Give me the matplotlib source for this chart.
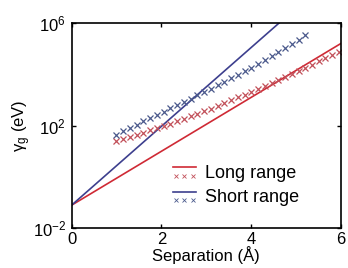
import numpy as np
import matplotlib
matplotlib.use('Agg')
import matplotlib.pyplot as plt
from matplotlib.legend_handler import HandlerBase
from matplotlib.lines import Line2D

plt.rcParams['font.family'] = ['Liberation Sans', 'DejaVu Sans']
plt.rcParams['mathtext.fontset'] = 'custom'
plt.rcParams['mathtext.rm'] = 'Liberation Sans'
plt.rcParams['mathtext.it'] = 'Liberation Sans:italic'

# crosses (separation in A, log10 of gamma_g in eV)
short_x = [1.00, 1.15, 1.30, 1.45, 1.60, 1.75, 1.90, 2.05, 2.20, 2.35, 2.50, 2.65, 2.80, 2.95, 3.10,
           3.25, 3.40, 3.55, 3.70, 3.85, 4.00, 4.15, 4.30, 4.45, 4.60, 4.75, 4.90, 5.05, 5.20]
short_log = [1.65, 1.78, 1.90, 2.03, 2.16, 2.29, 2.41, 2.54, 2.67, 2.80, 2.92, 3.05, 3.18, 3.31, 3.44,
             3.58, 3.71, 3.85, 3.98, 4.12, 4.26, 4.41, 4.56, 4.72, 4.87, 5.03, 5.19, 5.35, 5.52]
long_x = [1.00, 1.15, 1.30, 1.45, 1.60, 1.75, 1.90, 2.05, 2.20, 2.35, 2.50, 2.65, 2.80, 2.95, 3.10, 3.25, 3.40,
          3.55, 3.70, 3.85, 4.00, 4.15, 4.30, 4.45, 4.60, 4.75, 4.90, 5.05, 5.20, 5.35, 5.50, 5.65, 5.80, 5.95]
long_log = [1.40, 1.48, 1.56, 1.64, 1.72, 1.81, 1.89, 1.98, 2.07, 2.16, 2.26, 2.36, 2.46, 2.56, 2.66, 2.77, 2.88,
            2.99, 3.10, 3.21, 3.32, 3.44, 3.55, 3.67, 3.78, 3.90, 4.02, 4.14, 4.26, 4.38, 4.50, 4.62, 4.74, 4.86]

# fitted lines (end points)
line_x = [0, 6]
short_line_log = [-1.11, 8.13]
long_line_log = [-1.11, 5.21]

red = '#cf2a35'
red_x = '#c2505a'
blue = '#3d3f8e'
blue_x = '#4b5a8c'


class LineCrossHandler(HandlerBase):
    def __init__(self, lc, xc):
        super().__init__()
        self.lc = lc
        self.xc = xc

    def create_artists(self, legend, orig_handle, xdescent, ydescent, width, height, fontsize, trans):
        l = Line2D([0, width], [height * 0.8, height * 0.8], color=self.lc, lw=1.2, transform=trans)
        xs = np.array([0.15, 0.5, 0.85]) * width
        m = Line2D(xs, [height * 0.15] * 3, ls='none', marker='x', ms=2.5, mew=0.6,
                   color=self.xc, transform=trans)
        return [l, m]


fig = plt.figure(figsize=(3.48, 2.68), dpi=100)
ax = fig.add_axes([0.2055, 0.149, 0.775, 0.765])

ax.plot(line_x, 10 ** np.array(long_line_log), color=red, lw=1.2)
ax.plot(line_x, 10 ** np.array(short_line_log), color=blue, lw=1.2)
ax.plot(long_x, 10 ** np.array(long_log), ls='none', marker='x', ms=4.5, mew=0.9, color=red_x)
ax.plot(short_x, 10 ** np.array(short_log), ls='none', marker='x', ms=4.5, mew=0.9, color=blue_x)

ax.set_yscale('log')
ax.set_xlim(0, 6)
ax.set_ylim(1e-2, 1e6)
ax.set_xticks([0, 2, 4, 6])
ax.set_yticks([1e-2, 1e2, 1e6])
ax.minorticks_off()
ax.tick_params(direction='in', top=True, right=True, length=3, width=1, labelsize=12)
ax.tick_params(axis='x', pad=2.5)
ax.tick_params(axis='y', pad=4)
for s in ax.spines.values():
    s.set_linewidth(1.2)

ax.set_xlabel('Separation (Å)', fontsize=12, labelpad=0)
ax.set_ylabel('γ$_\\mathregular{g}$ (eV)', fontsize=12, labelpad=0)

h1 = Line2D([], [])
h2 = Line2D([], [])
ax.legend([h1, h2], ['Long range', 'Short range'], loc='upper left', bbox_to_anchor=(0.375, 0.31),
          frameon=False, fontsize=13, handlelength=1.3, handletextpad=0.5, labelspacing=0.4,
          borderpad=0, borderaxespad=0,
          handler_map={h1: LineCrossHandler(red, red_x), h2: LineCrossHandler(blue, blue_x)})

fig.savefig('out.png', dpi=100)
